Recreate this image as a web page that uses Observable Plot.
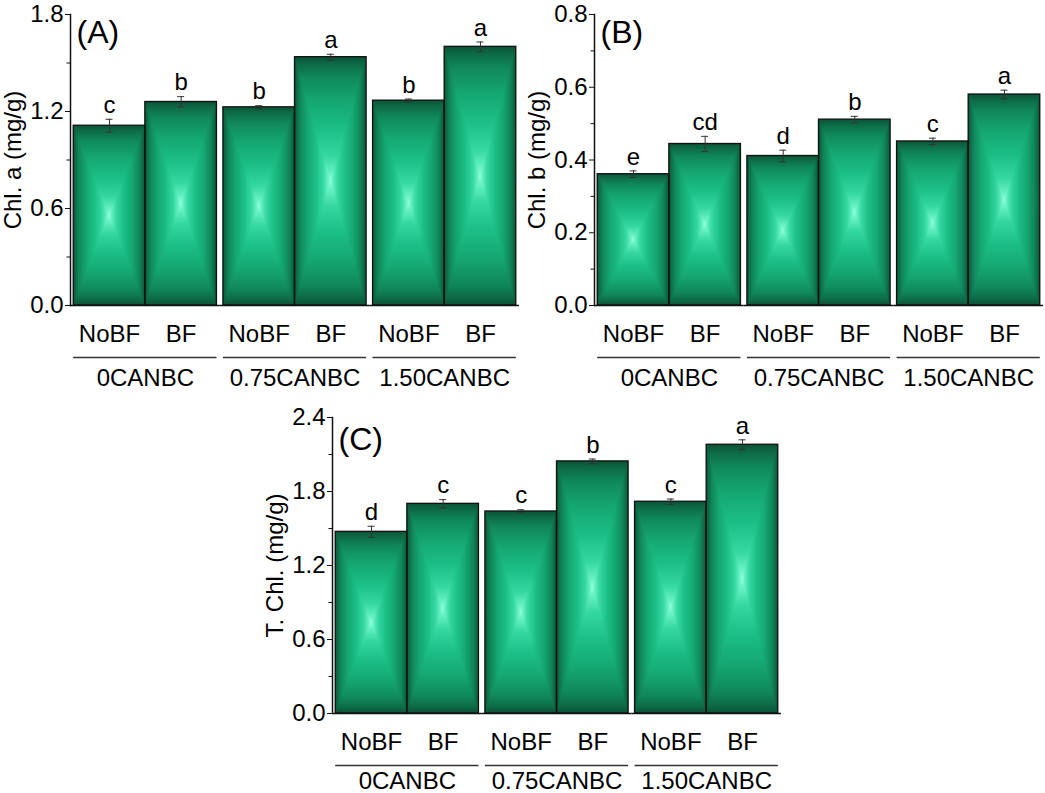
<!DOCTYPE html>
<html><head><meta charset="utf-8">
<script src="https://cdn.jsdelivr.net/npm/d3@7"></script>
<script src="https://cdn.jsdelivr.net/npm/@observablehq/plot@0.6"></script>
<style>
body{margin:0;background:#fff;}
#page{position:relative;width:1045px;height:793px;overflow:hidden;background:#fff;}
.panel{position:absolute;}
</style></head><body>
<svg width="0" height="0" style="position:absolute;left:0;top:0">
<defs>
<linearGradient id="gh" x1="0" y1="0" x2="1" y2="0">
<stop offset="0" stop-color="#0b5236"/><stop offset="0.03" stop-color="#0d6a46"/><stop offset="0.08" stop-color="#10875b"/>
<stop offset="0.18" stop-color="#15a772"/><stop offset="0.30" stop-color="#1cc088"/><stop offset="0.40" stop-color="#35d8a0"/>
<stop offset="0.47" stop-color="#6af2c6"/><stop offset="0.5" stop-color="#90ffdc"/><stop offset="0.53" stop-color="#6af2c6"/>
<stop offset="0.60" stop-color="#35d8a0"/><stop offset="0.70" stop-color="#1cc088"/><stop offset="0.82" stop-color="#15a772"/>
<stop offset="0.92" stop-color="#10875b"/><stop offset="0.97" stop-color="#0d6a46"/><stop offset="1" stop-color="#0b5236"/>
</linearGradient>
<linearGradient id="gv" x1="0" y1="0" x2="0" y2="1">
<stop offset="0" stop-color="#0b5236"/><stop offset="0.03" stop-color="#0d6a46"/><stop offset="0.08" stop-color="#10875b"/>
<stop offset="0.18" stop-color="#15a772"/><stop offset="0.30" stop-color="#1cc088"/><stop offset="0.40" stop-color="#35d8a0"/>
<stop offset="0.47" stop-color="#6af2c6"/><stop offset="0.5" stop-color="#90ffdc"/><stop offset="0.53" stop-color="#6af2c6"/>
<stop offset="0.60" stop-color="#35d8a0"/><stop offset="0.70" stop-color="#1cc088"/><stop offset="0.82" stop-color="#15a772"/>
<stop offset="0.92" stop-color="#10875b"/><stop offset="0.97" stop-color="#0d6a46"/><stop offset="1" stop-color="#0b5236"/>
</linearGradient>
<mask id="bowtie" maskContentUnits="objectBoundingBox">
<polygon points="0,0 0.5,0.5 0,1" fill="#fff"/>
<polygon points="1,0 0.5,0.5 1,1" fill="#fff"/>
</mask>
</defs>
</svg>
<div id="page">
  <div class="panel" id="pA" style="left:0px;top:0px"></div>
  <div class="panel" id="pB" style="left:524px;top:0px"></div>
  <div class="panel" id="pC" style="left:262px;top:407px"></div>
</div>
<script>
const FONT = '"Liberation Sans", Arial, Helvetica, sans-serif';

// categories
const groups = ["0CANBC", "0.75CANBC", "1.50CANBC"];
const treatments = ["NoBF", "BF"];

// (A) Chl. a
const chlA = [1.112, 1.259, 1.226, 1.536, 1.267, 1.600];
const chlAErr = [0.040, 0.033, 0.010, 0.018, 0.010, 0.030];
const chlALetters = ["c", "b", "b", "a", "b", "a"];
const chlATicks = [0, 0.6, 1.2, 1.8];
const chlAMinor = [0.3, 0.9, 1.5];

// (B) Chl. b
const chlB = [0.361, 0.444, 0.411, 0.511, 0.451, 0.580];
const chlBErr = [0.009, 0.021, 0.016, 0.009, 0.009, 0.012];
const chlBLetters = ["e", "cd", "d", "b", "c", "a"];
const chlBTicks = [0, 0.2, 0.4, 0.6, 0.8];
const chlBMinor = [0.1, 0.3, 0.5, 0.7];

// (C) T. Chl.
const tChl = [1.473, 1.700, 1.638, 2.044, 1.717, 2.179];
const tChlErr = [0.045, 0.034, 0.014, 0.019, 0.022, 0.040];
const tChlLetters = ["d", "c", "c", "b", "c", "a"];
const tChlTicks = [0, 0.6, 1.2, 1.8, 2.4];
const tChlMinor = [0.3, 0.9, 1.5, 2.1];

function makePanel(el, cfg) {
  const rows = [];
  groups.forEach((g, i) => treatments.forEach((t, j) => {
    const k = i * treatments.length + j;
    rows.push({g, t, v: cfg.values[k], e: cfg.errors[k], l: cfg.letters[k]});
  }));
  const mL = 70, mR = cfg.marginRight, padOuter = 0.045;
  const F = (cfg.width - mL - mR) / groups.length;
  const bw = F / (2 + 2 * padOuter);
  const capInset = (bw - 7) / 2;
  const plot = Plot.plot({
    width: cfg.width, height: cfg.height,
    marginLeft: mL, marginRight: mR, marginTop: cfg.marginTop, marginBottom: cfg.marginBottom,
    style: {fontFamily: FONT, fontSize: "24px", background: "transparent", overflow: "visible", color: "#000"},
    fx: {domain: groups, padding: 0, round: false},
    x: {domain: treatments, paddingInner: 0, paddingOuter: padOuter, round: false},
    y: {domain: [0, cfg.yMax]},
    marks: [
      Plot.barY(rows, {fx: "g", x: "t", y: "v", fill: "url(#gv)"}),
      Plot.barY(rows, {fx: "g", x: "t", y: "v", fill: "url(#gh)", ariaDescription: "hgrad"}),
      Plot.barY(rows, {fx: "g", x: "t", y: "v", fill: "none", stroke: "#111", strokeWidth: 1.3}),
      Plot.ruleX(rows, {fx: "g", x: "t", y1: d => d.v - d.e, y2: d => d.v + d.e, stroke: "#333", strokeWidth: 1}),
      Plot.tickY(rows, {fx: "g", x: "t", y: d => d.v + d.e, insetLeft: capInset, insetRight: capInset, stroke: "#333", strokeWidth: 1}),
      Plot.tickY(rows, {fx: "g", x: "t", y: d => d.v - d.e, insetLeft: capInset, insetRight: capInset, stroke: "#333", strokeWidth: 1}),
      Plot.text(rows, {fx: "g", x: "t", y: d => d.v + d.e, text: "l", dy: -14, fontSize: 24, fill: "#000"}),
      Plot.ruleY([0], {stroke: "#111", strokeWidth: 1.5}),
      Plot.ruleY([0], {dy: 52, insetLeft: 3.2, insetRight: 3.2, stroke: "#333", strokeWidth: 1.3}),
      Plot.frame({anchor: "left", facetAnchor: "left", stroke: "#111", strokeWidth: 1.5}),
      Plot.axisY(cfg.ticks, {tickSize: 5, tickPadding: 2, tickFormat: d3.format(".1f"), fontSize: 24,
        label: cfg.label, labelAnchor: "center", labelOffset: 67, labelArrow: "none", stroke: "#111"}),
      Plot.axisY(cfg.minors, {tickSize: 3.5, tickFormat: () => "", label: null, stroke: "#111"}),
      Plot.axisX({tickSize: 0, tickPadding: 19, fontSize: 24, label: null}),
      Plot.axisFx({anchor: "bottom", tickSize: 0, tickPadding: cfg.groupPad, fontSize: 24, label: null}),
      Plot.text([{g: groups[0], tag: cfg.tag}], {fx: "g", text: "tag", frameAnchor: "top-left", lineAnchor: "top", dx: 6, dy: cfg.tagDy, fontSize: 32, fill: "#000"})
    ]
  });
  plot.querySelectorAll('[aria-description="hgrad"] rect').forEach(r => r.setAttribute("mask", "url(#bowtie)"));
  document.getElementById(el).appendChild(plot);
}

makePanel("pA", {values: chlA, errors: chlAErr, letters: chlALetters, ticks: chlATicks, minors: chlAMinor,
  yMax: 1.8, label: "Chl. a (mg/g)", tag: "(A)", width: 522, height: 395, marginTop: 14, marginRight: 3, marginBottom: 90, groupPad: 63, tagDy: 6});
makePanel("pB", {values: chlB, errors: chlBErr, letters: chlBLetters, ticks: chlBTicks, minors: chlBMinor,
  yMax: 0.8, label: "Chl. b (mg/g)", tag: "(B)", width: 521, height: 395, marginTop: 14, marginRight: 2, marginBottom: 90, groupPad: 63, tagDy: 6});
makePanel("pC", {values: tChl, errors: tChlErr, letters: tChlLetters, ticks: tChlTicks, minors: tChlMinor,
  yMax: 2.4, label: "T. Chl. (mg/g)", tag: "(C)", width: 522, height: 386, marginTop: 10, marginRight: 3, marginBottom: 80, groupPad: 58, tagDy: 10});
</script>
</body></html>
